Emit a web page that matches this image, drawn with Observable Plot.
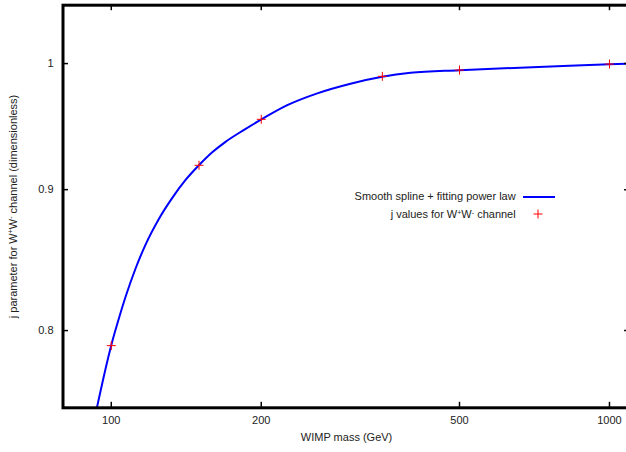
<!DOCTYPE html>
<html><head><meta charset="utf-8">
<script src="https://cdn.jsdelivr.net/npm/d3@7"></script>
<script src="https://cdn.jsdelivr.net/npm/@observablehq/plot@0.6"></script>
<style>
html,body{margin:0;padding:0;background:#fff;overflow:hidden;}
#wrap{position:relative;width:626px;height:452px;overflow:hidden;font-family:"Liberation Sans",Arial,sans-serif;}
#wrap svg{position:absolute;left:0;top:0;max-width:none !important;}
.leg{position:absolute;font-size:11px;line-height:13px;color:#222;white-space:nowrap;text-align:right;left:0;}
.leg sup{font-size:7px;vertical-align:top;position:relative;top:-2px;}
.sample{position:absolute;height:2px;background:#0000ff;}
</style></head><body><div id="wrap"></div>
<script>
// ---- data ----
const massTicks = [100, 200, 500, 1000];
const jTicks = [0.8, 0.9, 1];
const pointMass = [100, 150, 200, 350, 500, 1000];
const pointJ = [0.790, 0.9185, 0.9545, 0.9894, 0.9946, 0.9996];
const curveMass = [93.65, 100, 103.57, 106.83, 111.88, 117.17, 124.6, 132.57, 140.97, 149.93, 159.45, 169.55, 184.34, 200.94, 225.55, 259.11, 302.15, 349.9, 398.7, 500, 700, 1000, 1100];
const curveJ = [0.7506, 0.7903, 0.8081, 0.8229, 0.8426, 0.8596, 0.8782, 0.8938, 0.9073, 0.9185, 0.9285, 0.9367, 0.9459, 0.9548, 0.9658, 0.9754, 0.9833, 0.9890, 0.9923, 0.9945, 0.9970, 0.9994, 1.0001];
const xTitle = "WIMP mass (GeV)";
const yTitle = ["j parameter for W", "+", "W", "-", " channel (dimensionless)"];
const lineLabel = "Smooth spline + fitting power law";
const pointLabel = "j values for W<sup>+</sup>W<sup>-</sup> channel";

const points = pointMass.map((m, i) => ({m, j: pointJ[i]}));
const curve = curveMass.map((m, i) => ({m, j: curveJ[i]}));

const W = 630, H = 452, mL = 62.5, mT = 4.7, mB = 44.7, mR = 0.4;
const innerW = W - mL - mR, innerH = H - mT - mB, tl = 5.5;
const txt = {fontSize: 11, fill: "#222"};

const chart = Plot.plot({
  width: W, height: H,
  marginLeft: mL, marginTop: mT, marginBottom: mB, marginRight: mR,
  style: {fontFamily: '"Liberation Sans", Arial, sans-serif', fontSize: "11px", background: "#fff", overflow: "visible"},
  x: {type: "log", domain: [80, 1100], axis: null},
  y: {type: "log", domain: [0.75, 1.05], axis: null},
  marks: [
    Plot.line(curve, {x: "m", y: "j", stroke: "#0000ff", strokeWidth: 2, curve: "monotone-x", clip: true}),
    Plot.dot(points, {x: "m", y: "j", symbol: "plus", r: 3, stroke: "#ff0000", strokeWidth: 1}),
    Plot.tickX(massTicks, {x: d => d, stroke: "#000", strokeWidth: 1.5, insetTop: innerH - tl}),
    Plot.tickX(massTicks, {x: d => d, stroke: "#000", strokeWidth: 1.5, insetBottom: innerH - tl}),
    Plot.tickY(jTicks, {y: d => d, stroke: "#000", strokeWidth: 1.5, insetRight: innerW - tl}),
    Plot.tickY(jTicks, {y: d => d, stroke: "#000", strokeWidth: 1.5, insetLeft: innerW - tl}),
    Plot.text(massTicks, {x: d => d, text: d => String(d), frameAnchor: "bottom", lineAnchor: "top", dy: 8.5, ...txt}),
    Plot.text(jTicks, {y: d => d, text: d => String(d), frameAnchor: "left", textAnchor: "end", dx: -9.5, ...txt}),
    Plot.text([xTitle], {text: d => d, frameAnchor: "bottom", lineAnchor: "middle", dy: 30, ...txt}),
    Plot.text([yTitle.join("")], {text: d => d, frameAnchor: "left", textAnchor: "middle", rotate: -90, lineAnchor: "middle", dx: -50, ...txt}),
    Plot.frame({stroke: "#000", strokeWidth: 3})
  ]
});
const wrap = document.getElementById("wrap");
wrap.appendChild(chart);

// superscripts in the y-axis title
const full = yTitle.join("");
const yl = Array.from(chart.querySelectorAll("text")).find(t => t.textContent === full);
if (yl) {
  while (yl.firstChild) yl.removeChild(yl.firstChild);
  const shifts = [0, -4, 4, -4, 4];
  yTitle.forEach((t, i) => {
    const ts = document.createElementNS("http://www.w3.org/2000/svg", "tspan");
    ts.textContent = t;
    if (shifts[i]) ts.setAttribute("dy", shifts[i]);
    if (shifts[i] < 0) ts.setAttribute("font-size", "7");
    yl.appendChild(ts);
  });
}

// legend
function addLeg(html, cy, right) {
  const d = document.createElement("div");
  d.className = "leg";
  d.innerHTML = html;
  d.style.width = right + "px";
  d.style.top = (cy - 6.5) + "px";
  wrap.appendChild(d);
}
addLeg(lineLabel, 196.7, 515.7);
addLeg(pointLabel, 214.3, 515.7);
const s = document.createElement("div");
s.className = "sample";
s.style.left = "523px"; s.style.top = "196px"; s.style.width = "32px";
wrap.appendChild(s);
const p = document.createElementNS("http://www.w3.org/2000/svg", "svg");
p.setAttribute("width", 12); p.setAttribute("height", 12);
p.style.position = "absolute";
p.style.left = "532.3px"; p.style.top = "208.3px";
p.innerHTML = '<path d="M1.5 6H10.5M6 1.5V10.5" stroke="#ff0000" stroke-width="1"/>';
wrap.appendChild(p);
</script>
</body></html>
